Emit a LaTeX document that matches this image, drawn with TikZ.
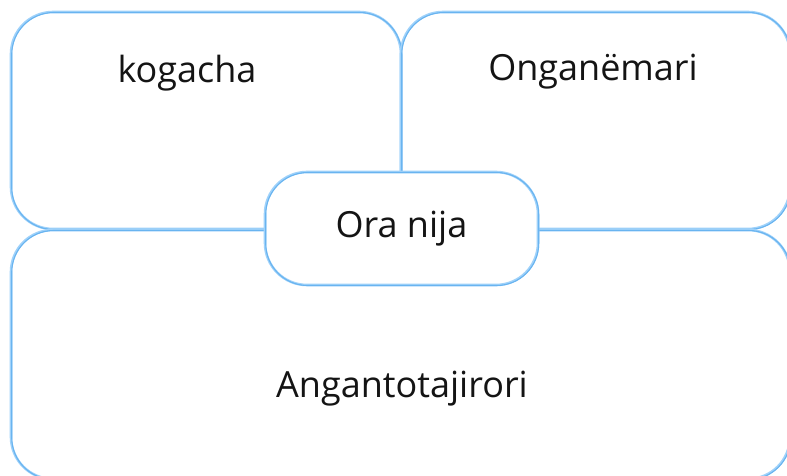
\documentclass[tikz,border=0pt]{standalone}
\usepackage{fontspec}
\setmainfont{Open Sans}
\definecolor{sketchlight}{RGB}{160,210,250}
\definecolor{sketchdark}{RGB}{105,180,240}
\definecolor{inktext}{RGB}{20,20,20}
\begin{document}
\begin{tikzpicture}[x=1pt,y=-1pt,
  box/.style={draw=sketchlight, line width=2.6pt, rounded corners=42pt, fill=none,
    inner sep=0pt, outer sep=0pt,
    postaction={draw=sketchdark, line width=1.1pt, transform canvas={shift={(0.7pt,-0.5pt)}}}},
  hub/.style={box, fill=white, rounded corners=42pt},
  lbl/.style={text=inktext, font=\fontsize{36}{42}\selectfont, inner sep=0pt}]
\useasboundingbox (0,0) rectangle (787,476);
% regions
\node[box, minimum width=390pt, minimum height=217pt] (tl) at (206,120.5) {};
\node[box, minimum width=389pt, minimum height=217pt] (tr) at (595.5,120.5) {};
\node[box, minimum width=779pt, minimum height=249pt] (bt) at (400.5,354.5) {};
% central node
\node[hub, minimum width=273pt, minimum height=113pt] (c) at (401.5,228.5) {};
% labels
\node[lbl] (tltext) at (187,73) {kogacha};
\node[lbl] (trtext) at (593,72) {Onganëmari};
\node[lbl] (bttext) at (402,389) {Angantotajirori};
\node[lbl] (ctext) at (c.center) {Ora nija};
\end{tikzpicture}
\end{document}
